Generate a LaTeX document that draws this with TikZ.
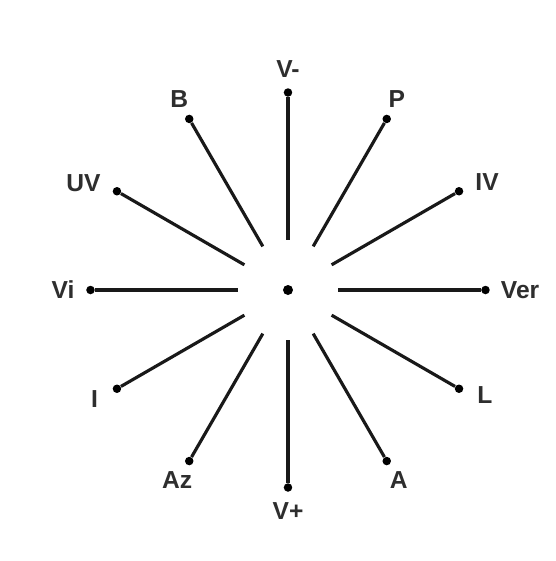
\documentclass[tikz,border=0pt]{standalone}
\usepackage{fontspec}
\newfontfamily\lblfont{Liberation Sans}
\usepackage{tikz}
\usetikzlibrary{positioning}

\begin{document}
\begin{tikzpicture}[
  spoke/.style={line width=1.8pt, draw=black!90, shorten <=9mm},
  tip/.style={circle, fill=black, minimum size=1.7mm, inner sep=0pt},
  hub/.style={circle, fill=black, minimum size=2mm, inner sep=0pt},
  lbl/.style={font=\lblfont\bfseries\fontsize{14}{16}\selectfont, text=black!82, inner sep=0pt},
  every label/.style={lbl}]

  \useasboundingbox (-5.76,-5.42) rectangle (5.36,5.80);

  \node[hub] (hub) at (0,0) {};

  \node[tip, label={[label distance=2mm]above:V-}] (dot-vm) at (90:3.95) {};
  \node[tip, label={[label distance=1.3mm, xshift=2mm]above:P}] (dot-p) at (60:3.95) {};
  \node[tip, label={[label distance=2.3mm, yshift=1.8mm]right:IV}] (dot-iv) at (30:3.95) {};
  \node[tip, label={[label distance=2.1mm]right:Ver}] (dot-ver) at (0:3.95) {};
  \node[tip, label={[label distance=2.7mm, yshift=-1.2mm]right:L}] (dot-l) at (-30:3.95) {};
  \node[tip, label={[label distance=1.2mm, xshift=2.4mm]below:A}] (dot-a) at (-60:3.95) {};
  \node[tip, label={[label distance=2.1mm]below:V+}] (dot-vp) at (-90:3.95) {};
  \node[tip, label={[label distance=1.2mm, xshift=-2.4mm]below:Az}] (dot-az) at (-120:3.95) {};
  \node[tip, label={[label distance=2.8mm, yshift=-2mm]left:I}] (dot-i) at (-150:3.95) {};
  \node[tip, label={[label distance=2.2mm]left:Vi}] (dot-vi) at (180:3.95) {};
  \node[tip, label={[label distance=2.3mm, yshift=1.6mm]left:UV}] (dot-uv) at (150:3.95) {};
  \node[tip, label={[label distance=1.3mm, xshift=-2mm]above:B}] (dot-b) at (120:3.95) {};

  \draw[spoke] (hub) -- (dot-vm);
  \draw[spoke] (hub) -- (dot-p);
  \draw[spoke] (hub) -- (dot-iv);
  \draw[spoke] (hub) -- (dot-ver);
  \draw[spoke] (hub) -- (dot-l);
  \draw[spoke] (hub) -- (dot-a);
  \draw[spoke] (hub) -- (dot-vp);
  \draw[spoke] (hub) -- (dot-az);
  \draw[spoke] (hub) -- (dot-i);
  \draw[spoke] (hub) -- (dot-vi);
  \draw[spoke] (hub) -- (dot-uv);
  \draw[spoke] (hub) -- (dot-b);

\end{tikzpicture}
\end{document}
